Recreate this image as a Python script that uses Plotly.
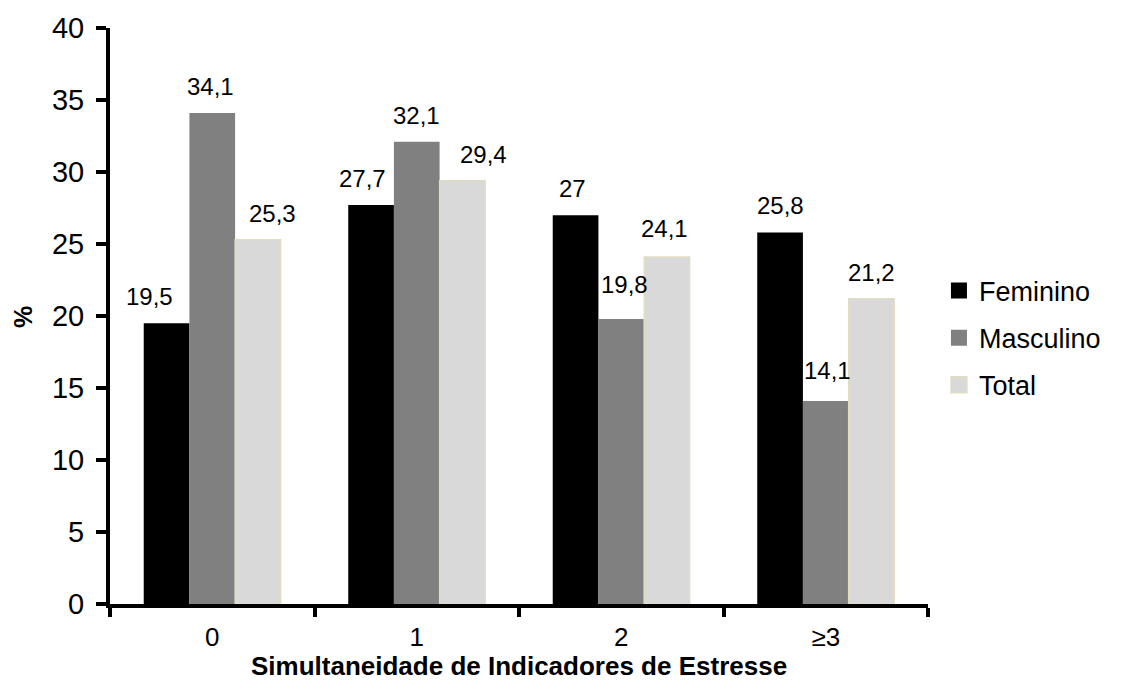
import plotly.graph_objects as go

categories = ["0", "1", "2", "≥3"]
feminino = [19.5, 27.7, 27.0, 25.8]
masculino = [34.1, 32.1, 19.8, 14.1]
total = [25.3, 29.4, 24.1, 21.2]
series_names = ["Feminino", "Masculino", "Total"]
y_ticks = [0, 5, 10, 15, 20, 25, 30, 35, 40]

# per-label nudges in pixels (x, y) for each series, category order
label_dx = [[-17, -9, -3, 0], [-2, 0, 3, 2], [15, 21, -2, 0]]
label_dy = [[0, 0, 0, 0], [0, 0, -8, -4], [0, 0, -2, 0]]

fills = ["#000000", "#808080", "#d9d9d9"]
edges = ["#000000", "#808080", "#e3ddc0"]
edge_w = [0, 0, 1.3]

PLOT_L, PLOT_R, PLOT_T, PLOT_B = 110, 196, 28, 76
W, H = 1124, 680
BARGAP = 0.33
plot_w = W - PLOT_L - PLOT_R
plot_h = H - PLOT_T - PLOT_B
bar_px = plot_w / len(categories) * (1 - BARGAP) / 3


def fmt(v):
    s = f"{v:.1f}".replace(".", ",")
    return s[:-2] if s.endswith(",0") else s


fig = go.Figure()
series = [feminino, masculino, total]
for i, (name, vals) in enumerate(zip(series_names, series)):
    fig.add_trace(go.Bar(
        x=categories, y=vals, name=name,
        marker=dict(color=fills[i], line=dict(color=edges[i], width=edge_w[i])),
        showlegend=False,
        hoverinfo="x+y+name",
    ))
    # legend swatch
    fig.add_trace(go.Scatter(
        x=[None], y=[None], mode="markers", name=name, legendgroup=name,
        marker=dict(symbol="square", size=17, color=fills[i],
                    line=dict(color=edges[i], width=edge_w[i])),
    ))

label_font = dict(family="Liberation Sans, Arial", size=24, color="black")
for i, vals in enumerate(series):
    for j, v in enumerate(vals):
        fig.add_annotation(
            x=categories[j], y=v, xref="x", yref="y",
            text=fmt(v), showarrow=False,
            xanchor="center", yanchor="bottom",
            xshift=(i - 1) * bar_px + label_dx[i][j],
            yshift=11 - label_dy[i][j],
            font=label_font,
        )

fig.add_annotation(
    x=0.5, y=-(666 - (H - PLOT_B)) / plot_h, xref="paper", yref="paper",
    text="<b>Simultaneidade de Indicadores de Estresse</b>", showarrow=False,
    xanchor="center", yanchor="middle",
    font=dict(size=26, family="Liberation Sans, Arial", color="black"),
)
fig.add_annotation(
    x=-(PLOT_L - 23) / plot_w, y=0.5 - 1 / plot_h, xref="paper", yref="paper",
    text="<b>%</b>", showarrow=False, textangle=-90,
    xanchor="center", yanchor="middle",
    font=dict(size=25, family="Liberation Sans, Arial", color="black"),
)

fig.update_layout(
    width=W, height=H,
    margin=dict(l=PLOT_L, r=PLOT_R, t=PLOT_T, b=PLOT_B),
    paper_bgcolor="white", plot_bgcolor="white",
    barmode="group", bargap=BARGAP, bargroupgap=0,
    font=dict(family="Liberation Sans, Arial", color="black"),
    showlegend=True,
    legend=dict(
        x=1.0134, y=(H - PLOT_B - 338) / plot_h, xanchor="left", yanchor="middle",
        font=dict(size=27, family="Liberation Sans, Arial", color="black"),
        itemwidth=30, tracegroupgap=9,
        bgcolor="rgba(0,0,0,0)",
    ),
)

fig.update_xaxes(
    type="category",
    showline=True, linecolor="black", linewidth=4,
    ticks="outside", tickson="boundaries", ticklen=9, tickwidth=4, tickcolor="black",
    tickfont=dict(size=26, family="Liberation Sans, Arial", color="black"),
    ticklabelstandoff=7,
    showgrid=False,
)

fig.update_yaxes(
    range=[0, 40], tickvals=y_ticks,
    showline=True, linecolor="black", linewidth=4,
    ticks="outside", ticklen=10, tickwidth=4, tickcolor="black",
    tickfont=dict(size=29, family="Liberation Sans, Arial", color="black"),
    ticklabelstandoff=6,
    showgrid=False, zeroline=False,
)

fig.write_html("out.html")
